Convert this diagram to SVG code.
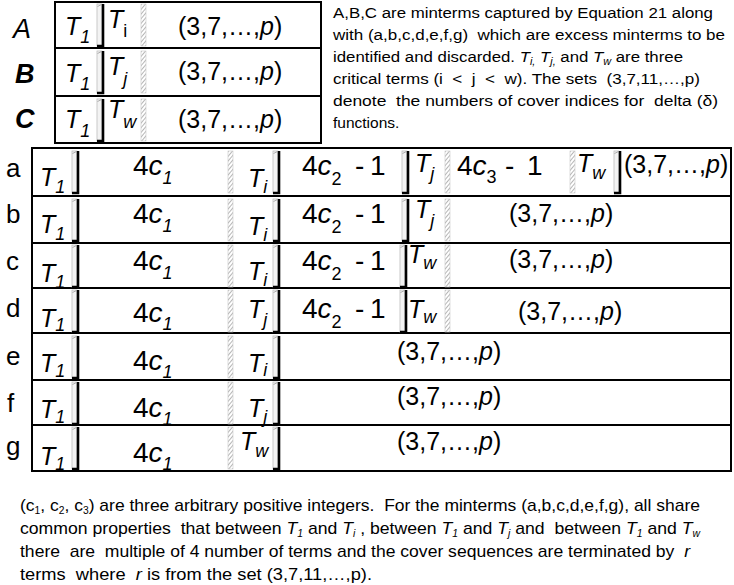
<svg xmlns="http://www.w3.org/2000/svg" width="734" height="585" viewBox="0 0 734 585">
<style>
text{font-family:"Liberation Sans",Arial,sans-serif;fill:#000}
.it{font-style:italic}
.T{font-size:25px;font-style:italic}
.s{font-size:18px}
.n{font-size:28px}
.seq{font-size:25px}
.lb{font-size:26px}
.LB{font-size:27px;font-style:italic}
.p{font-size:15.5px}
.q{font-size:17px}
.box{fill:#fff;stroke:#000;stroke-width:2}
.ln{stroke:#000;stroke-width:2}
</style>
<defs>
<pattern id="hatch" width="3" height="3" patternUnits="userSpaceOnUse" patternTransform="rotate(40)">
<rect width="3" height="3" fill="#fff"/><line x1="0" y1="0" x2="0" y2="3" stroke="#7a7a7a" stroke-width="1.1"/>
</pattern>
<g id="brk"><rect x="0" y="0" width="5" height="42" fill="#f3f3f3" stroke="#bdbdbd" stroke-width="0.8"/><path d="M0,42 H6 V0" fill="none" stroke="#000" stroke-width="2.6"/><path d="M0.5,2.5 L4.5,0.5" stroke="#999" stroke-width="0.8"/></g>
<g id="hat"><rect x="0" y="0" width="5" height="42" fill="url(#hatch)" stroke="#c8c8c8" stroke-width="0.6"/></g>
</defs>
<rect width="734" height="585" fill="#fff"/>

<g id="top-frame">
<rect class="box" x="55" y="2" width="266" height="141"/>
<line class="ln" x1="55" y1="48" x2="321" y2="48"/>
<line class="ln" x1="55" y1="96" x2="321" y2="96"/>
</g>
<g id="box-A">
<text class="LB" x="13" y="38">A</text>
<text class="T" x="65" y="35">T<tspan class="s" dy="8">1</tspan></text>
<use href="#brk" x="97" y="4"/>
<text class="T" x="108" y="28">T<tspan class="s" style="font-style:normal" dy="9">i</tspan></text>
<use href="#hat" x="141" y="4"/>
<text class="seq" x="178" y="35">(3,7,…,<tspan class="it">p</tspan>)</text>
</g>
<g id="box-B">
<text class="LB" x="15" y="83" font-weight="bold">B</text>
<text class="T" x="65" y="82">T<tspan class="s" dy="8">1</tspan></text>
<use href="#brk" x="97" y="51"/>
<text class="T" x="108" y="75">T<tspan class="s" dy="10">j</tspan></text>
<use href="#hat" x="141" y="51"/>
<text class="seq" x="178" y="80">(3,7,…,<tspan class="it">p</tspan>)</text>
</g>
<g id="box-C">
<text class="LB" x="15" y="128" font-weight="bold">C</text>
<text class="T" x="65" y="128">T<tspan class="s" dy="9">1</tspan></text>
<use href="#brk" x="97" y="99"/>
<text class="T" x="108" y="118">T<tspan class="s" dy="10">w</tspan></text>
<use href="#hat" x="141" y="99"/>
<text class="seq" x="178" y="128">(3,7,…,<tspan class="it">p</tspan>)</text>
</g>

<g id="note-top">
<text class="p" x="333" y="18" textLength="380" lengthAdjust="spacingAndGlyphs">A,B,C are minterms captured by Equation 21 along</text>
<text class="p" x="333" y="40" textLength="392" lengthAdjust="spacingAndGlyphs" style="white-space:pre">with (a,b,c,d,e,f,g)  which are excess minterms to be</text>
<text class="p" x="333" y="62" textLength="350" lengthAdjust="spacingAndGlyphs">identified and discarded. <tspan class="it">T</tspan><tspan class="it" font-size="10" dy="3">i,</tspan> <tspan class="it" dy="-3">T</tspan><tspan class="it" font-size="10" dy="3">j,</tspan><tspan dy="-3"> and </tspan><tspan class="it">T</tspan><tspan class="it" font-size="10" dy="3">w</tspan><tspan dy="-3"> are three</tspan></text>
<text class="p" x="333" y="84" textLength="367" lengthAdjust="spacingAndGlyphs" style="white-space:pre">critical terms (i  &lt;  j  &lt;  w). The sets  (3,7,11,…,p)</text>
<text class="p" x="333" y="106" textLength="385" lengthAdjust="spacingAndGlyphs" style="white-space:pre">denote  the numbers of cover indices for  delta (δ)</text>
<text class="p" x="333" y="128">functions.</text>
</g>

<g id="table-frame">
<rect class="box" x="32" y="148" width="699" height="323"/>
<line class="ln" x1="32" y1="196" x2="731" y2="196"/>
<line class="ln" x1="32" y1="243" x2="731" y2="243"/>
<line class="ln" x1="32" y1="288" x2="731" y2="288"/>
<line class="ln" x1="32" y1="333" x2="731" y2="333"/>
<line class="ln" x1="32" y1="380" x2="731" y2="380"/>
<line class="ln" x1="32" y1="425" x2="731" y2="425"/>
</g>

<g id="row-a">
<text class="lb" x="6" y="177">a</text>
<text class="T" x="40" y="186">T<tspan class="s" dy="7">1</tspan></text>
<use href="#brk" x="72" y="151"/>
<text class="n" x="133" y="175">4<tspan class="it">c</tspan><tspan class="s it" dy="9">1</tspan></text>
<use href="#hat" x="228" y="151"/>
<text class="T" x="248" y="187">T<tspan class="s" dy="6">i</tspan></text>
<use href="#brk" x="273" y="151"/>
<text class="n" y="175"><tspan x="302">4</tspan><tspan class="it">c</tspan><tspan class="s" dy="10">2</tspan><tspan x="355" dy="-10">-</tspan><tspan x="370">1</tspan></text>
<use href="#brk" x="402" y="151"/>
<text class="T" x="415" y="172">T<tspan class="s" dy="8">j</tspan></text>
<use href="#hat" x="445" y="151"/>
<text class="n" y="175"><tspan x="457">4</tspan><tspan class="it">c</tspan><tspan class="s" dy="8">3</tspan><tspan x="505" dy="-8">-</tspan><tspan x="527">1</tspan></text>
<use href="#hat" x="570" y="151"/>
<text class="T" x="577" y="172">T<tspan class="s" dy="7">w</tspan></text>
<use href="#brk" x="614" y="151"/>
<text class="seq" x="624" y="173">(3,7,…,<tspan class="it">p</tspan>)</text>
</g>

<g id="row-b">
<text class="lb" x="6" y="223">b</text>
<text class="T" x="40" y="233">T<tspan class="s" dy="7">1</tspan></text>
<use href="#brk" x="72" y="199"/>
<text class="n" x="133" y="223">4<tspan class="it">c</tspan><tspan class="s it" dy="9">1</tspan></text>
<use href="#hat" x="228" y="199"/>
<text class="T" x="248" y="235">T<tspan class="s" dy="6">i</tspan></text>
<use href="#brk" x="273" y="199"/>
<text class="n" y="223"><tspan x="302">4</tspan><tspan class="it">c</tspan><tspan class="s" dy="10">2</tspan><tspan x="355" dy="-10">-</tspan><tspan x="370">1</tspan></text>
<use href="#brk" x="402" y="199"/>
<text class="T" x="415" y="218">T<tspan class="s" dy="9">j</tspan></text>
<use href="#hat" x="445" y="199"/>
<text class="seq" x="509" y="222">(3,7,…,<tspan class="it">p</tspan>)</text>
</g>

<g id="row-c">
<text class="lb" x="6" y="270">c</text>
<text class="T" x="40" y="282">T<tspan class="s" dy="6">1</tspan></text>
<use href="#brk" x="72" y="245"/>
<text class="n" x="133" y="270">4<tspan class="it">c</tspan><tspan class="s it" dy="9">1</tspan></text>
<use href="#hat" x="228" y="245"/>
<text class="T" x="248" y="280">T<tspan class="s" dy="6">i</tspan></text>
<use href="#brk" x="273" y="245"/>
<text class="n" y="270"><tspan x="302">4</tspan><tspan class="it">c</tspan><tspan class="s" dy="10">2</tspan><tspan x="355" dy="-10">-</tspan><tspan x="370">1</tspan></text>
<use href="#brk" x="400" y="245"/>
<text class="T" x="408" y="263">T<tspan class="s" dy="6">w</tspan></text>
<use href="#hat" x="445" y="245"/>
<text class="seq" x="509" y="268">(3,7,…,<tspan class="it">p</tspan>)</text>
</g>

<g id="row-d">
<text class="lb" x="6" y="317">d</text>
<text class="T" x="40" y="327">T<tspan class="s" dy="4">1</tspan></text>
<use href="#brk" x="72" y="290"/>
<text class="n" x="133" y="322">4<tspan class="it">c</tspan><tspan class="s it" dy="8">1</tspan></text>
<use href="#hat" x="228" y="290"/>
<text class="T" x="248" y="318">T<tspan class="s" dy="8">j</tspan></text>
<use href="#brk" x="273" y="290"/>
<text class="n" y="318"><tspan x="302">4</tspan><tspan class="it">c</tspan><tspan class="s" dy="10">2</tspan><tspan x="355" dy="-10">-</tspan><tspan x="370">1</tspan></text>
<use href="#brk" x="400" y="290"/>
<text class="T" x="408" y="318">T<tspan class="s" dy="5">w</tspan></text>
<use href="#hat" x="445" y="290"/>
<text class="seq" x="518" y="320">(3,7,…,<tspan class="it">p</tspan>)</text>
</g>

<g id="row-e">
<text class="lb" x="6" y="365">e</text>
<text class="T" x="40" y="372">T<tspan class="s" dy="5">1</tspan></text>
<use href="#brk" x="72" y="336"/>
<text class="n" x="133" y="370">4<tspan class="it">c</tspan><tspan class="s it" dy="8">1</tspan></text>
<use href="#hat" x="228" y="336"/>
<text class="T" x="248" y="372">T<tspan class="s" dy="4">i</tspan></text>
<use href="#brk" x="273" y="336"/>
<text class="seq" x="397" y="360">(3,7,…,<tspan class="it">p</tspan>)</text>
</g>

<g id="row-f">
<text class="lb" x="7" y="412">f</text>
<text class="T" x="40" y="418">T<tspan class="s" dy="5">1</tspan></text>
<use href="#brk" x="72" y="382"/>
<text class="n" x="133" y="417">4<tspan class="it">c</tspan><tspan class="s it" dy="8">1</tspan></text>
<use href="#hat" x="228" y="382"/>
<text class="T" x="248" y="417">T<tspan class="s" dy="6">j</tspan></text>
<use href="#brk" x="273" y="382"/>
<text class="seq" x="397" y="405">(3,7,…,<tspan class="it">p</tspan>)</text>
</g>

<g id="row-g">
<text class="lb" x="6" y="455">g</text>
<text class="T" x="40" y="465">T<tspan class="s" dy="5">1</tspan></text>
<use href="#brk" x="72" y="427"/>
<text class="n" x="133" y="462">4<tspan class="it">c</tspan><tspan class="s it" dy="8">1</tspan></text>
<use href="#hat" x="228" y="427"/>
<text class="T" x="240" y="450">T<tspan class="s" dy="7">w</tspan></text>
<use href="#brk" x="273" y="427"/>
<text class="seq" x="397" y="450">(3,7,…,<tspan class="it">p</tspan>)</text>
</g>

<g id="connectors"/>

<g id="note-bottom">
<text class="q" x="20" y="511" textLength="680" lengthAdjust="spacingAndGlyphs" style="white-space:pre">(c<tspan font-size="10" dy="3">1</tspan><tspan dy="-3">, c</tspan><tspan font-size="10" dy="3">2</tspan><tspan dy="-3">, c</tspan><tspan font-size="10" dy="3">3</tspan><tspan dy="-3">) are three arbitrary positive integers.  For the minterms (a,b,c,d,e,f,g), all share</tspan></text>
<text class="q" x="20" y="534" textLength="680" lengthAdjust="spacingAndGlyphs" style="white-space:pre">common properties  that between <tspan class="it">T</tspan><tspan class="it" font-size="10" dy="3">1</tspan><tspan dy="-3"> and </tspan><tspan class="it">T</tspan><tspan class="it" font-size="10" dy="3">i</tspan><tspan dy="-3"> , between </tspan><tspan class="it">T</tspan><tspan class="it" font-size="10" dy="3">1</tspan><tspan dy="-3"> and </tspan><tspan class="it">T</tspan><tspan class="it" font-size="10" dy="3">j</tspan><tspan dy="-3"> and  between </tspan><tspan class="it">T</tspan><tspan class="it" font-size="10" dy="3">1</tspan><tspan dy="-3"> and </tspan><tspan class="it">T</tspan><tspan class="it" font-size="10" dy="3">w</tspan></text>
<text class="q" x="20" y="557" textLength="670" lengthAdjust="spacingAndGlyphs" style="white-space:pre">there  are  multiple of 4 number of terms and the cover sequences are terminated by  <tspan class="it">r</tspan></text>
<text class="q" x="20" y="580" textLength="352" lengthAdjust="spacingAndGlyphs" style="white-space:pre">terms  where  <tspan class="it">r</tspan> is from the set (3,7,11,…,p).</text>
</g>
</svg>
